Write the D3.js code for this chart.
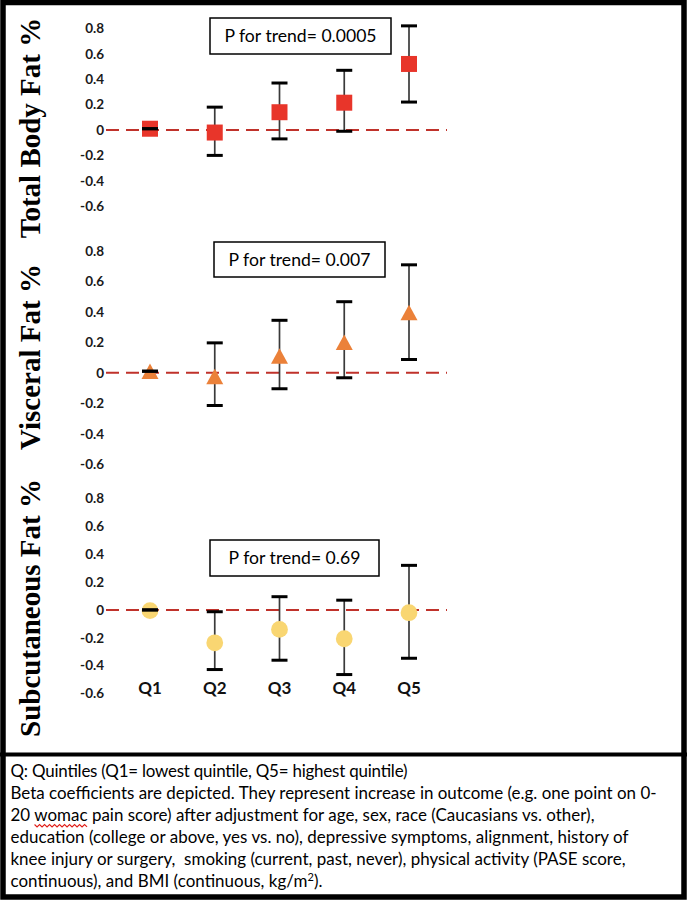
<!DOCTYPE html>
<html>
<head>
<meta charset="utf-8">
<script src="https://cdn.jsdelivr.net/npm/d3@7"></script>
<style>
  html, body { margin: 0; padding: 0; background: #fff; }
  svg { display: block; }
  text { white-space: pre; }
</style>
</head>
<body>
<svg id="chart" width="687" height="900"></svg>
<script>
// ---------------- data ----------------
const quintiles = ["Q1", "Q2", "Q3", "Q4", "Q5"];
const yTicks = [-0.6, -0.4, -0.2, 0, 0.2, 0.4, 0.6, 0.8];
const panelTitles = ["Total Body Fat %", "Visceral Fat %", "Subcutaneous Fat %"];
const pTrendLabels = ["P for trend= 0.0005", "P for trend= 0.007", "P for trend= 0.69"];

const totalBeta = [0.01, -0.02, 0.14, 0.215, 0.52];
const totalLow  = [0.01, -0.20, -0.07, -0.01, 0.22];
const totalHigh = [0.01, 0.18, 0.37, 0.47, 0.82];

const visceralBeta = [0.01, -0.025, 0.11, 0.20, 0.395];
const visceralLow  = [0.01, -0.215, -0.105, -0.033, 0.087];
const visceralHigh = [0.01, 0.196, 0.344, 0.466, 0.708];

const subcutBeta = [-0.005, -0.236, -0.14, -0.207, -0.02];
const subcutLow  = [0, -0.428, -0.361, -0.464, -0.347];
const subcutHigh = [0, -0.013, 0.095, 0.07, 0.32];

const footnoteLines = [
  "Q: Quintiles (Q1= lowest quintile, Q5= highest quintile)",
  "Beta coefficients are depicted. They represent increase in outcome (e.g. one point on 0-",
  "20 womac pain score) after adjustment for age, sex, race (Caucasians vs. other),",
  "education (college or above, yes vs. no), depressive symptoms, alignment, history of",
  "knee injury or surgery,  smoking (current, past, never), physical activity (PASE score,",
  "continuous), and BMI (continuous, kg/m²)."
];

// ---------------- layout ----------------
const svg = d3.select("#chart");
const sansFont = "Lato, 'Open Sans', 'Noto Sans', sans-serif";

const panels = [
  { beta: totalBeta, low: totalLow, high: totalHigh, marker: "square", color: "#E8352A",
    yRange: [206.2, 28.4], titleY: 128, box: [210, 18, 181, 36] },
  { beta: visceralBeta, low: visceralLow, high: visceralHigh, marker: "triangle", color: "#EB8139",
    yRange: [464.2, 250.8], titleY: 357, box: [214, 242, 171, 35] },
  { beta: subcutBeta, low: subcutLow, high: subcutHigh, marker: "circle", color: "#F9D672",
    yRange: [693.5, 498.5], titleY: 608, box: [210, 540, 169, 36] }
];

const x = d3.scalePoint().domain(quintiles).range([150, 409]);

const triangleBox = {
  draw(ctx, size) {
    const w = 17, h = 15.5;
    ctx.moveTo(0, -h / 2);
    ctx.lineTo(w / 2, h / 2);
    ctx.lineTo(-w / 2, h / 2);
    ctx.closePath();
  }
};

panels.forEach((p, pi) => {
  const y = d3.scaleLinear().domain([-0.6, 0.8]).range(p.yRange);
  const g = svg.append("g");

  const axis = d3.axisLeft(y).tickValues(yTicks).tickSize(0).tickPadding(0)
    .tickFormat(d => d === 0 ? "0" : d.toFixed(1));
  const ag = g.append("g").attr("transform", "translate(104,0)").call(axis);
  ag.select(".domain").remove();
  ag.selectAll("text")
    .attr("font-family", sansFont)
    .attr("font-size", 13.5)
    .attr("font-weight", "bold")
    .attr("fill", "#1a1a1a");

  g.append("line")
    .attr("x1", x(quintiles[0]) - 44).attr("x2", x(quintiles[4]) + 38)
    .attr("y1", y(0)).attr("y2", y(0))
    .attr("stroke", "#C0322B").attr("stroke-width", 2)
    .attr("stroke-dasharray", "13,7");

  const rows = quintiles.map((q, i) => ({ q, b: p.beta[i], lo: p.low[i], hi: p.high[i] }));

  g.selectAll(".ebar").data(rows).enter().append("line")
    .attr("x1", d => x(d.q)).attr("x2", d => x(d.q))
    .attr("y1", d => y(d.lo)).attr("y2", d => y(d.hi))
    .attr("stroke", "#3a3a3a").attr("stroke-width", 1.7);

  const symType = p.marker === "square" ? d3.symbolSquare
                : p.marker === "circle" ? d3.symbolCircle : triangleBox;
  const symSize = p.marker === "square" ? 256 : p.marker === "circle" ? Math.PI * 8.4 * 8.4 : 1;
  g.selectAll(".mark").data(rows).enter().append("path")
    .attr("d", d3.symbol().type(symType).size(symSize))
    .attr("transform", d => `translate(${x(d.q)},${y(d.b)})`)
    .attr("fill", p.color);

  const caps = rows.flatMap(d => [{ q: d.q, v: d.lo }, { q: d.q, v: d.hi }]);
  g.selectAll(".cap").data(caps).enter().append("line")
    .attr("x1", d => x(d.q) - 8).attr("x2", d => x(d.q) + 8)
    .attr("y1", d => y(d.v)).attr("y2", d => y(d.v))
    .attr("stroke", "#000").attr("stroke-width", 3);

  const [bx, by, bw, bh] = p.box;
  g.append("rect").attr("x", bx).attr("y", by).attr("width", bw).attr("height", bh)
    .attr("fill", "#fff").attr("stroke", "#000").attr("stroke-width", 1.5);
  g.append("text").attr("x", bx + bw / 2).attr("y", by + bh / 2)
    .attr("dy", "0.35em").attr("text-anchor", "middle")
    .attr("font-family", sansFont).attr("font-size", 17.6).attr("fill", "#000")
    .text(pTrendLabels[pi]);

  svg.append("text")
    .attr("transform", `translate(40,${p.titleY}) rotate(-90)`)
    .attr("text-anchor", "middle")
    .attr("font-family", "'Liberation Serif', 'Times New Roman', serif")
    .attr("font-weight", "bold").attr("font-size", 29).attr("fill", "#000")
    .text(panelTitles[pi]);

  if (pi === 2) {
    g.selectAll(".qlab").data(quintiles).enter().append("text")
      .attr("x", d => x(d)).attr("y", 694)
      .attr("text-anchor", "middle")
      .attr("font-family", sansFont).attr("font-weight", "bold").attr("font-size", 17)
      .attr("fill", "#111")
      .text(d => d);
  }
});

// ---------------- frame ----------------
svg.append("rect").attr("x", 3).attr("y", 2.5).attr("width", 681).attr("height", 894.5)
  .attr("fill", "none").attr("stroke", "#000").attr("stroke-width", 5.5);
svg.append("line").attr("x1", 0).attr("x2", 687).attr("y1", 754.5).attr("y2", 754.5)
  .attr("stroke", "#000").attr("stroke-width", 4);

// ---------------- footnote ----------------
const fn = svg.append("g");
const baseY = 776.5, lineH = 22.1, fx = 10.5;
const lineWidths = [397, 646, 584, 618, 615, 312];
let fontSize = 15;
const measure = s => {
  const p = fn.append("text").attr("font-family", sansFont).attr("font-size", fontSize).text(s);
  const w = p.node().getComputedTextLength();
  p.remove();
  return w;
};
fontSize = fontSize * lineWidths[1] / measure(footnoteLines[1]);

const l3 = footnoteLines[2];
const extra = (lineWidths[2] - measure(l3)) / (l3.length - 1);
const wx0 = fx + measure("20 ") + 3 * extra;
const wx1 = wx0 + measure("womac") + 4 * extra;

footnoteLines.forEach((line, i) => {
  const t = fn.append("text").attr("x", fx).attr("y", baseY + i * lineH)
    .attr("font-family", sansFont).attr("font-size", fontSize).attr("fill", "#000")
    .attr("textLength", lineWidths[i]).attr("lengthAdjust", "spacing");
  if (i === 5) {
    t.append("tspan").text("continuous), and BMI (continuous, kg/m");
    t.append("tspan").attr("font-size", fontSize * 0.65).attr("dy", -6).text("2");
    t.append("tspan").attr("dy", 6).text(").");
  } else {
    t.text(line);
  }
});

// red wavy spell-check underline below "womac", clipped to its own line
const wy = baseY + 2 * lineH + 5;
svg.append("defs").append("clipPath").attr("id", "waveClip")
  .append("rect").attr("x", wx0 - 2).attr("y", wy - 4).attr("width", wx1 - wx0 + 4).attr("height", 8);
const wavePts = d3.range(wx0, wx1 + 0.1, 2.5).map((xx, k) => [xx, wy + (k % 2 ? 1.2 : -1.2)]);
fn.append("path").attr("d", d3.line()(wavePts)).attr("fill", "none")
  .attr("clip-path", "url(#waveClip)")
  .attr("stroke", "#E0201A").attr("stroke-width", 1.1);
</script>
</body>
</html>
